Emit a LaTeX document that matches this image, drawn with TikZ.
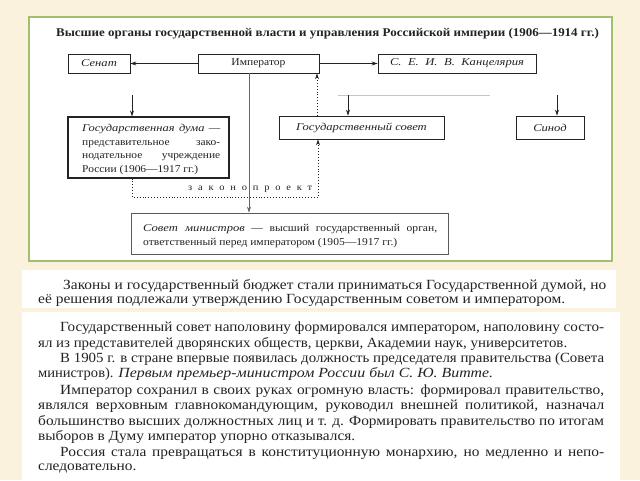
\documentclass[tikz,border=0pt]{standalone}
\usepackage{fontspec}
\usepackage{graphicx}
\setmainfont{Liberation Serif}[FakeStretch=1.1, ItalicFeatures={FakeStretch=1.2}]
\usetikzlibrary{arrows.meta,calc}
\definecolor{cream}{RGB}{250,242,220}
\definecolor{frameg}{RGB}{164,190,112}
\definecolor{ink}{RGB}{35,35,35}
\newsavebox\jlbox
% justified line: stretch spaces if short, squeeze horizontally if too long
\newcommand\jline[2]{\leavevmode\sbox\jlbox{#2}%
  \ifdim\wd\jlbox>#1\relax\resizebox{#1}{\ht\jlbox}{\usebox\jlbox}\else\hbox to #1{#2}\fi}
% fitted line: scale horizontally to the given width
\newcommand\fitline[2]{\leavevmode\sbox\jlbox{#2}\resizebox{#1}{\ht\jlbox}{\usebox\jlbox}}
\begin{document}
\begin{tikzpicture}[x=1pt,y=-1pt,
  box/.style={draw=ink, line width=0.8pt, inner sep=0pt, text=ink, font=\fontsize{10.5}{12}\selectfont},
  arr/.style={-{Stealth[length=6pt,width=4pt]}, draw=ink, line width=0.6pt},
  dotl/.style={dotted, line width=0.9pt, draw=ink},
  btxt/.style={anchor=base west, inner sep=0pt, text=ink},
  para/.style={anchor=base west, inner sep=0pt, text=ink, font=\fontsize{14}{15}\selectfont}]
\fill[cream] (0,0) rectangle (640,480);
\useasboundingbox (0,0) rectangle (640,480);
\draw[frameg, line width=2pt, fill=white] (29,17) rectangle (612,261);
\fill[white] (22,270) rectangle (616,308);
\fill[white] (22,312) rectangle (620,480);

\node[anchor=base, inner sep=0pt, text=ink, font=\bfseries\fontsize{11.8}{13}\selectfont] (title) at (327.5,36)
  {Высшие органы государственной власти и управления Российской империи (1906—1914 гг.)};

\node[box, minimum width=62pt, minimum height=19pt] (senat) at (99,63.5) {\textit{Сенат}};
\node[box, minimum width=121pt, minimum height=19pt] (imp) at (258.5,63.5) {Император};
\node[box, minimum width=158pt, minimum height=19pt] (kanc) at (457,63.5) {\textit{\jline{134pt}{С. Е. И. В. Канцелярия}}};

\node[box, line width=1.1pt, minimum width=161pt, minimum height=61pt] (duma) at (148.5,147.5) {};
\begin{scope}[every node/.style={btxt, font=\fontsize{10.4}{13}\selectfont}]
\node (d1) at (82,131.5) {\jline{138pt}{\textit{Государственная дума} —}};
\node (d2) at (82,145) {\jline{138pt}{представительное зако-}};
\node (d3) at (82,158.5) {\jline{138pt}{нодательное учреждение}};
\node (d4) at (82,172) {России (1906—1917 гг.)};
\end{scope}
\node[box, minimum width=165pt, minimum height=23pt] (gsov) at (361.5,127.5) {\textit{Государственный совет}};
\node[box, minimum width=68pt, minimum height=23pt] (sinod) at (550,127.5) {\textit{Синод}};
\node[box, draw=ink!75, minimum width=317pt, minimum height=41pt] (sovmin) at (289.5,233.5) {};
\begin{scope}[every node/.style={btxt, font=\fontsize{10.5}{13}\selectfont}]
\node (s1) at (143,231.5) {\jline{294pt}{\textit{Совет министров} — высший государственный орган,}};
\node (s2) at (143,245.5) {ответственный перед императором (1905—1917 гг.)};
\end{scope}

\node[btxt, font=\fontsize{9.5}{10}\selectfont] (zp) at (188,190)
  {\hbox to 124pt{з\hfill а\hfill к\hfill о\hfill н\hfill о\hfill п\hfill р\hfill о\hfill е\hfill к\hfill т}};

% solid connectors
\draw[arr] (imp.west) -- (senat.east);
\draw[arr] (imp.east) -- (kanc.west);
\coordinate (vx) at (249,0);
\draw[arr, draw=ink!70] (vx |- imp.south) -- (vx |- sovmin.north);
\coordinate (h1) at (132,95);
\coordinate (h2) at (348,95);
\coordinate (h3) at (557,95);
\coordinate (hs) at (338,95);
\coordinate (he) at (490,95);
\draw[gray!45, line width=0.5pt] (hs) -- (he);
\draw[arr] (h1) -- (h1 |- duma.north);
\draw[arr] (h2) -- (h2 |- gsov.north);
\draw[arr] (h3) -- (h3 |- sinod.north);

% dotted connectors
\coordinate (lx) at (132,197);
\coordinate (rx) at (318,197);
\draw[dotl, -{Stealth[length=6pt,width=4pt]}] (lx |- duma.south) -- (lx) -- (rx) -- (rx |- gsov.south);
\coordinate (ux) at (317,100);
\draw[dotl, -{Stealth[length=6pt,width=4pt]}] (ux |- gsov.north) -- (ux |- imp.south);

% text below
\node[para] (p1) at (63,289) {\jline{543pt}{Законы и государственный бюджет стали приниматься Государственной думой, но}};
\node[para] (p2) at (38,303) {\fitline{527pt}{её решения подлежали утверждению Государственным советом и императором.}};
\node[para] (p3) at (60,331) {\jline{544pt}{Государственный совет наполовину формировался императором, наполовину состо-}};
\node[para] (p4) at (38,347) {\fitline{529pt}{ял из представителей дворянских обществ, церкви, Академии наук, университетов.}};
\node[para] (p5) at (60,362) {\jline{544pt}{В 1905 г. в стране впервые появилась должность председателя правительства (Совета}};
\node[para] (p6) at (38,377) {\fitline{455pt}{министров). \textit{Первым премьер-министром России был С. Ю. Витте.}}};
\node[para] (p7) at (60,394) {\jline{544pt}{Император сохранил в своих руках огромную власть: формировал правительство,}};
\node[para] (p8) at (38,409) {\jline{566pt}{являлся верховным главнокомандующим, руководил внешней политикой, назначал}};
\node[para] (p9) at (38,425) {\jline{566pt}{большинство высших должностных лиц и т. д. Формировать правительство по итогам}};
\node[para] (p10) at (38,440) {\fitline{317pt}{выборов в Думу император упорно отказывался.}};
\node[para] (p11) at (60,456) {\jline{544pt}{Россия стала превращаться в конституционную монархию, но медленно и непо-}};
\node[para] (p12) at (38,470) {следовательно.};
\end{tikzpicture}
\end{document}
